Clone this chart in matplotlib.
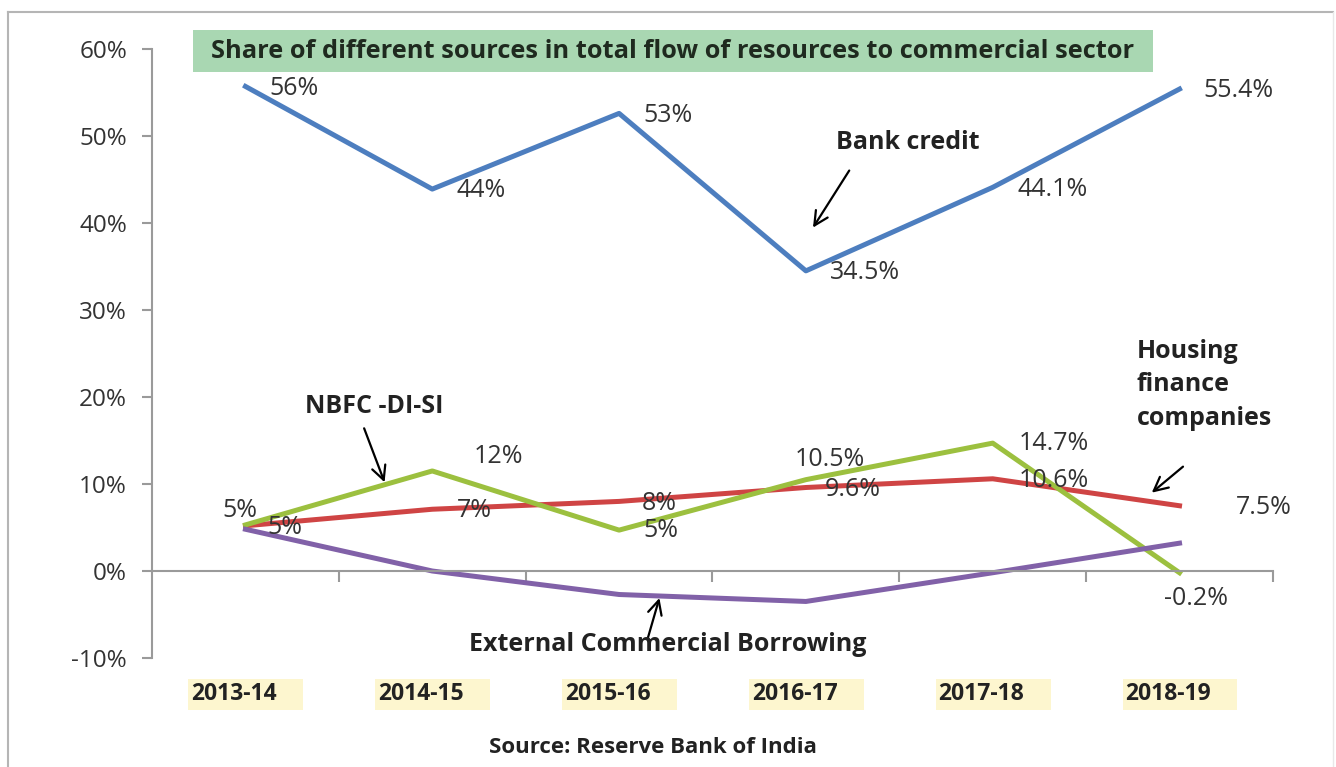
import numpy as np
import matplotlib.pyplot as plt
from matplotlib.patches import Rectangle
from matplotlib.lines import Line2D
import matplotlib.transforms as mtransforms

plt.rcParams['font.family'] = ['Open Sans', 'DejaVu Sans']

# data
years = ['2013-14', '2014-15', '2015-16', '2016-17', '2017-18', '2018-19']
bank_credit = [55.7, 43.9, 52.6, 34.5, 44.1, 55.4]
bank_labels = ['56%', '44%', '53%', '34.5%', '44.1%', '55.4%']
housing = [5.2, 7.1, 8.0, 9.6, 10.6, 7.5]
housing_labels = ['5%', '7%', '8%', '9.6%', '10.6%', '7.5%']
nbfc = [5.3, 11.5, 4.7, 10.5, 14.7, -0.2]
nbfc_labels = ['5%', '12%', '5%', '10.5%', '14.7%', '-0.2%']
ecb = [4.8, 0.0, -2.7, -3.5, -0.2, 3.2]

c_blue = '#4d7ebf'
c_red = '#cf4444'
c_green = '#9cc03f'
c_purple = '#8161a8'
c_text = '#333333'
c_bold = '#222222'
c_axis = '#9a9a9a'

fig = plt.figure(figsize=(13.36, 7.67), dpi=100)
fig.patch.set_facecolor('white')
ax = fig.add_axes([0.1138, 0.1421, 0.839, 0.794])

x = np.arange(len(years))
ax.plot(x, bank_credit, color=c_blue, lw=3.6)
ax.plot(x, housing, color=c_red, lw=3.6)
ax.plot(x, nbfc, color=c_green, lw=3.6)
ax.plot(x, ecb, color=c_purple, lw=3.6)

ax.set_xlim(-0.5, 5.5)
ax.set_ylim(-10, 60)
ax.set_yticks(np.arange(-10, 61, 10))
ax.set_yticklabels(['%d%%' % v for v in np.arange(-10, 61, 10)], fontsize=17.5, color=c_text)
ax.tick_params(axis='y', length=7, color=c_axis, width=1.5, pad=11)

for s in ['top', 'right']:
    ax.spines[s].set_visible(False)
ax.spines['left'].set_color(c_axis)
ax.spines['left'].set_linewidth(1.5)
ax.spines['bottom'].set_position(('data', 0))
ax.spines['bottom'].set_color(c_axis)
ax.spines['bottom'].set_linewidth(1.5)
ax.set_xticks(np.arange(0.5, 6.0, 1.0))
ax.set_xticklabels([])
ax.tick_params(axis='x', length=8, color=c_axis, width=1.5)

# category labels below the axes, on light yellow patches
trans = mtransforms.blended_transform_factory(ax.transData, ax.transAxes)
for i, yr in enumerate(years):
    ax.add_patch(Rectangle((i - 0.305, -0.086), 0.615, 0.052, transform=trans,
                           fc='#fdf6cf', ec='none', clip_on=False))
    ax.text(i - 0.29, -0.059, yr, transform=trans, ha='left', va='center',
            fontsize=16.5, fontweight='bold', color=c_bold)

# data labels
def dlabel(xi, yi, s, dx=0.13, dy=-0.2, ha='left'):
    ax.text(xi + dx, yi + dy, s, fontsize=18, color=c_text, ha=ha, va='center')

for i, v in enumerate(bank_credit):
    dlabel(x[i], v, bank_labels[i])
red_dx = [0.12, 0.13, 0.12, 0.1, 0.14, 0.3]
for i, v in enumerate(housing):
    dlabel(x[i], v, housing_labels[i], dx=red_dx[i])
nbfc_off = [(-0.03, 1.6, 'center'), (0.22, 1.7, 'left'), (0.13, -0.1, 'left'),
            (-0.06, 2.3, 'left'), (0.14, 0.0, 'left'), (0.09, -3.0, 'center')]
for i, v in enumerate(nbfc):
    dx, dy, ha = nbfc_off[i]
    dlabel(x[i], v, nbfc_labels[i], dx=dx, dy=dy, ha=ha)

# annotations
arrow = dict(arrowstyle='->', color='black', lw=1.6, mutation_scale=25)
ax.annotate('', xy=(3.03, 39.2), xytext=(3.24, 46.3), arrowprops=arrow)
ax.text(3.16, 49.3, 'Bank credit', fontsize=18, fontweight='bold', color=c_bold, va='center')
ax.annotate('', xy=(0.75, 9.9), xytext=(0.63, 16.7), arrowprops=arrow)
ax.text(0.32, 18.9, 'NBFC -DI-SI', fontsize=18, fontweight='bold', color=c_bold, va='center')
ax.annotate('', xy=(4.84, 8.8), xytext=(5.03, 12.2), arrowprops=arrow)
ax.text(4.77, 21.4, 'Housing\nfinance\ncompanies', fontsize=18, fontweight='bold',
        color=c_bold, va='center', linespacing=1.45)
ax.annotate('', xy=(2.22, -2.8), xytext=(2.15, -8.0), arrowprops=arrow)
ax.text(2.26, -8.5, 'External Commercial Borrowing', fontsize=18, fontweight='bold',
        color=c_bold, ha='center', va='center')

# title box
fig.add_artist(Rectangle((0.1445, 0.9061), 0.7186, 0.0548, transform=fig.transFigure,
                         fc='#a9d7b2', ec='none'))
fig.text(0.5037, 0.9335, 'Share of different sources in total flow of resources to commercial sector',
         fontsize=18.3, fontweight='bold', color='#1f2a1f', ha='center', va='center')

fig.text(0.4888, 0.0248, 'Source: Reserve Bank of India', fontsize=16, fontweight='bold',
         color=c_bold, ha='center', va='center')

# outer frame
fig.add_artist(Line2D([0.006, 0.006], [0.0, 0.984], color='#b5b5b5', lw=1.5, transform=fig.transFigure))
fig.add_artist(Line2D([0.006, 0.998], [0.984, 0.984], color='#b5b5b5', lw=1.5, transform=fig.transFigure))
fig.add_artist(Line2D([0.998, 0.998], [0.0, 0.984], color='#e8e8e8', lw=1.0, transform=fig.transFigure))

fig.savefig('out.png', dpi=100, facecolor='white')
